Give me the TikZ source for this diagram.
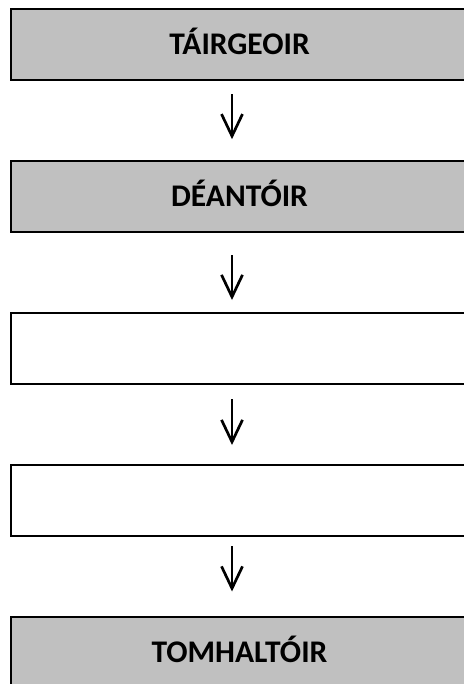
\documentclass[tikz,border=0pt]{standalone}
\usepackage{fontspec}
\setmainfont{Carlito}
\usetikzlibrary{arrows.meta}
\definecolor{boxgray}{RGB}{192,192,192}
\tikzset{every picture/.style={line width=1pt}}

\begin{document}
\begin{tikzpicture}[x=0.5pt,y=-0.5pt,
    box/.style={draw,line width=1pt,minimum width=228.5pt,minimum height=35.5pt,inner sep=0pt,
      text height=10.1pt,text depth=0pt,font=\fontsize{15.75}{19}\selectfont\bfseries},
    graybox/.style={box,fill=boxgray},
    arr/.style={-{Straight Barb[length=11pt,width=10.5pt]},line width=1.35pt}]
  \clip (0,0) rectangle (464,684); % 枠
  \node[graybox] (b1) at (239.5,44.7) {TÁIRGEOIR};
  \node[graybox] (b2) at (239.5,196.7) {DÉANTÓIR};
  \node[box] (b3) at (239.5,348.5) {};
  \node[box] (b4) at (239.5,500.5) {};
  \node[graybox] (b5) at (239.5,652) {TOMHALTÓIR};
  \coordinate (ax) at (232,0); % 矢印の列
  \draw[arr,shorten <=6.5pt,shorten >=10.5pt] (b1.south -| ax) -- (b2.north -| ax);
  \draw[arr,shorten <=11pt,shorten >=6pt] (b2.south -| ax) -- (b3.north -| ax);
  \draw[arr,shorten <=7pt,shorten >=9.5pt] (b3.south -| ax) -- (b4.north -| ax);
  \draw[arr,shorten <=4.5pt,shorten >=12pt] (b4.south -| ax) -- (b5.north -| ax);
\end{tikzpicture}
\end{document}
